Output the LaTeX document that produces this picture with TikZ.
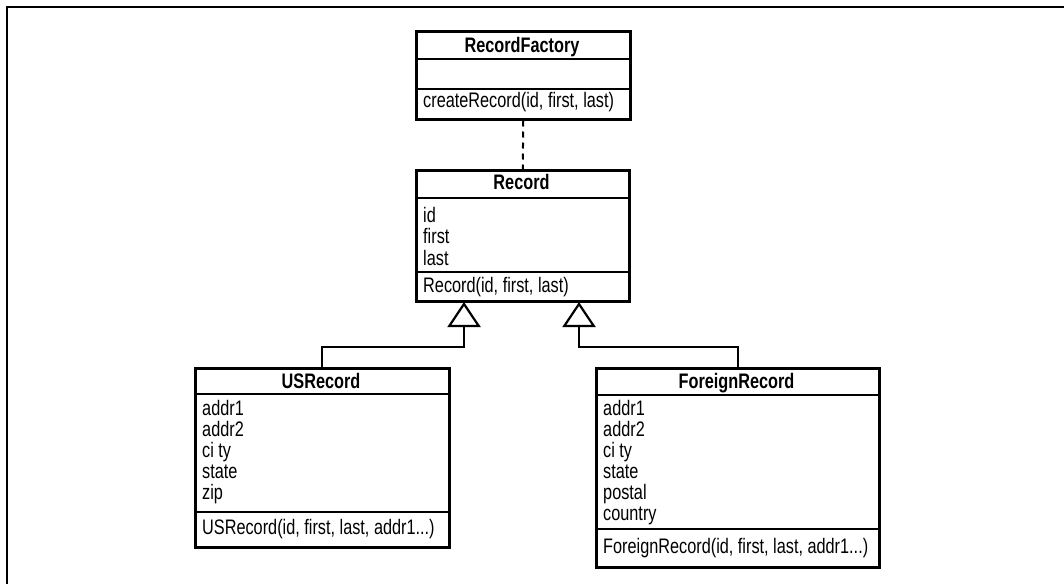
\documentclass[tikz,border=0pt]{standalone}
\usepackage{fontspec}
\setmainfont{Liberation Sans}[FakeStretch=0.775]
\usetikzlibrary{arrows.meta,calc}
\begin{document}
\begin{tikzpicture}[x=1pt,y=-1pt,
  cls/.style={draw, line width=2.5pt, inner sep=0pt, anchor=north west},
  sepline/.style={line width=2pt},
  ttl/.style={font=\fontsize{21}{22}\selectfont\bfseries, inner sep=0pt, anchor=base},
  txt/.style={font=\fontsize{21}{22}\selectfont, inner sep=0pt, anchor=base west},
  inh/.style={line width=2.2pt, -{Triangle[open, length=25pt, width=33pt, line width=2.2pt]}},
  dep/.style={line width=2pt, dash pattern=on 6pt off 5pt}]
\useasboundingbox (0,0) rectangle (1064,584);
\draw[line width=2pt] (7,584) -- (7,7) -- (1064,7);

% RecordFactory
\node[cls, minimum width=214pt, minimum height=88pt] (rf) at (415,30) {};
\draw[sepline] ($(rf.north west)+(0,29)$) -- ($(rf.north east)+(0,29)$);
\draw[sepline] ($(rf.north west)+(0,59)$) -- ($(rf.north east)+(0,59)$);
\node[ttl] (rft) at (522,52) {RecordFactory};
\node[txt] (rfm) at (423,107) {createRecord(id, first, last)};

% Record
\node[cls, minimum width=213pt, minimum height=131pt] (rec) at (415,169) {};
\draw[sepline] ($(rec.north west)+(0,29)$) -- ($(rec.north east)+(0,29)$);
\draw[sepline] ($(rec.north west)+(0,103)$) -- ($(rec.north east)+(0,103)$);
\node[ttl] (rect) at (521.5,189) {Record};
\node[txt] (reca1) at (423,222) {id};
\node[txt] (reca2) at (423,243.5) {first};
\node[txt] (reca3) at (423,265) {last};
\node[txt] (recm) at (423,292) {Record(id, first, last)};

% USRecord
\node[cls, minimum width=254pt, minimum height=179pt] (us) at (194,367) {};
\draw[sepline] ($(us.north west)+(0,27)$) -- ($(us.north east)+(0,27)$);
\draw[sepline] ($(us.north west)+(0,145)$) -- ($(us.north east)+(0,145)$);
\node[ttl] (ust) at (321,388) {USRecord};
\node[txt] (usa1) at (202,415) {addr1};
\node[txt] (usa2) at (202,436) {addr2};
\node[txt] (usa3) at (202,457) {ci ty};
\node[txt] (usa4) at (202,478) {state};
\node[txt] (usa5) at (202,499) {zip};
\node[txt] (usm) at (202,534) {USRecord(id, first, last, addr1...)};

% ForeignRecord
\node[cls, minimum width=283pt, minimum height=199pt] (fr) at (595,367) {};
\draw[sepline] ($(fr.north west)+(0,28)$) -- ($(fr.north east)+(0,28)$);
\draw[sepline] ($(fr.north west)+(0,162)$) -- ($(fr.north east)+(0,162)$);
\node[ttl] (frt) at (736.5,388) {ForeignRecord};
\node[txt] (fra1) at (603,415) {addr1};
\node[txt] (fra2) at (603,436) {addr2};
\node[txt] (fra3) at (603,457) {ci ty};
\node[txt] (fra4) at (603,478) {state};
\node[txt] (fra5) at (603,499) {postal};
\node[txt] (fra6) at (603,520) {country};
\node[txt] (frm) at (603,553) {ForeignRecord(id, first, last, addr1...)};

% connectors
\coordinate (usin) at (464,302);
\coordinate (usj) at (464,347);
\coordinate (frin) at (579,302);
\coordinate (frj) at (579,347);
\draw[dep] (rf.south) -- (rec.north);
\draw[inh] (us.north) |- (usj) -- (usin);
\draw[inh] (fr.north) |- (frj) -- (frin);
\end{tikzpicture}
\end{document}
